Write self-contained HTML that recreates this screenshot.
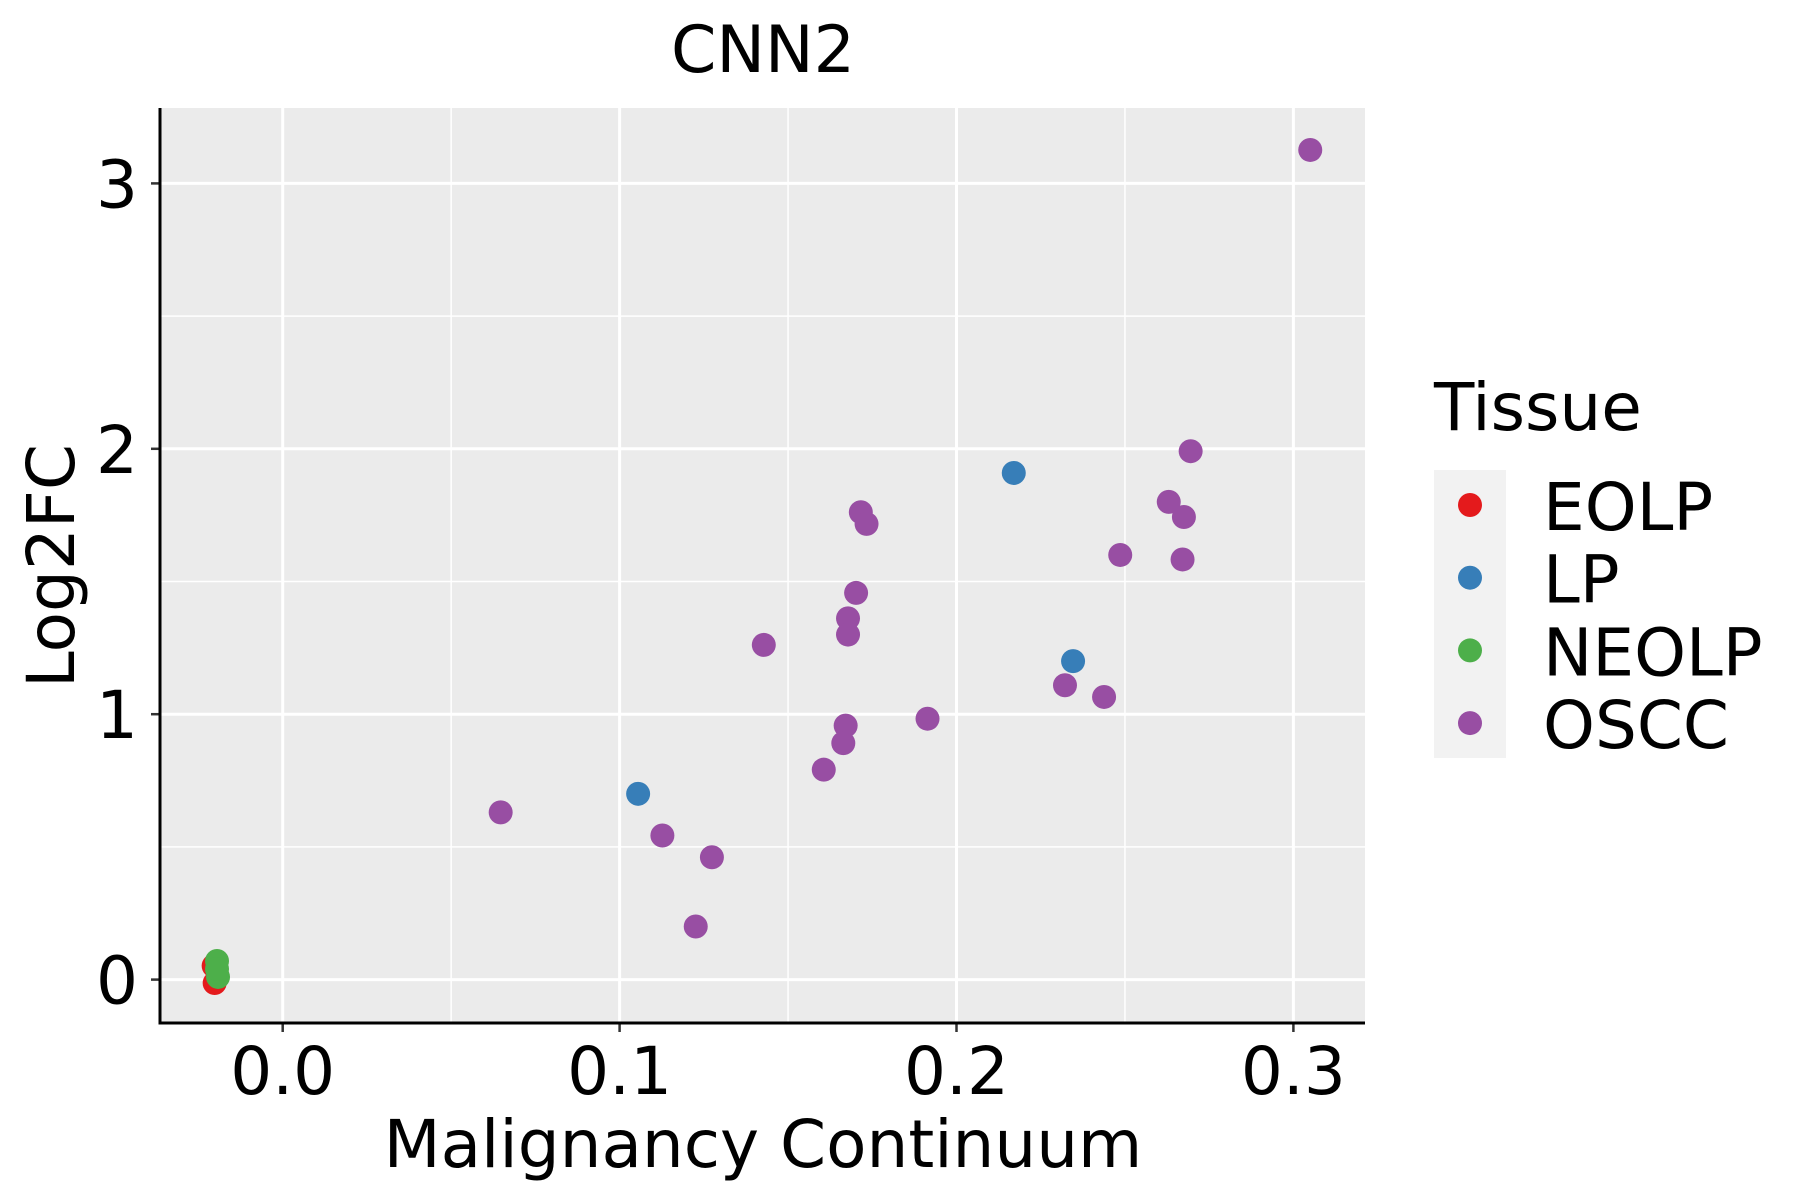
<!DOCTYPE html>
<html><head><meta charset="utf-8"><style>body{margin:0;background:#fff}svg{display:block}text{font-family:"DejaVu Sans","Liberation Sans",sans-serif}</style></head>
<body>
<svg id="chart" width="1800" height="1200" viewBox="0 0 1800 1200">
<rect x="160" y="108" width="1205" height="915" fill="#ebebeb"/>
<g id="grid"></g><g id="pts"></g><g id="axes"></g>
<text x="763" y="72" font-size="65" text-anchor="middle">CNN2</text>
<text x="763" y="1167" font-size="66" text-anchor="middle">Malignancy Continuum</text>
<text transform="translate(74,566) rotate(-90)" font-size="66" text-anchor="middle">Log2FC</text>
<g>
<text x="1434" y="430" font-size="66">Tissue</text>
<rect x="1434" y="470" width="72" height="288" fill="#f2f2f2"/>
<g id="leg"></g>
</g>
</svg>
<script>
const categories=["EOLP","LP","NEOLP","OSCC"];
const colors=["#e41a1c","#377eb8","#4daf4a","#984ea3"];
const xTicks=[0.0,0.1,0.2,0.3];
const xTickLabels=["0.0","0.1","0.2","0.3"];
const yTicks=[0,1,2,3];
const yTickLabels=["0","1","2","3"];
const eolpX=[-0.0202,-0.0205];
const eolpY=[-0.013,0.052];
const lpX=[0.217,0.2346,0.1055];
const lpY=[1.909,1.2,0.7];
const neolpX=[-0.0195,-0.0192,-0.0195];
const neolpY=[0.07,0.01,0.04];
const osccX=[0.305,0.2695,0.263,0.2675,0.2486,0.2671,0.1716,0.1733,0.1702,0.1678,0.1678,0.1428,0.2322,0.2438,0.1914,0.1671,0.1664,0.1606,0.0647,0.1127,0.1274,0.1226];
const osccY=[3.126,1.991,1.8,1.743,1.6,1.583,1.761,1.717,1.457,1.361,1.3,1.261,1.109,1.065,0.983,0.957,0.891,0.791,0.630,0.543,0.461,0.2];
const NS="http://www.w3.org/2000/svg";
const X=v=>282.7+v*3369, Y=v=>979.6-v*265.4;
const L=160,R=1365,T=108,B=1023;
function mk(tag,a,p){const e=document.createElementNS(NS,tag);for(const k in a)e.setAttribute(k,a[k]);p.appendChild(e);return e;}
const g=document.getElementById('grid');
for(let i=0;i<xTicks.length;i++){const m=xTicks[i]+0.05;if(X(m)<R){const l=mk('line',{x1:X(m),x2:X(m),y1:T,y2:B,stroke:'#fff','stroke-width':1.5},g);}}
for(let i=0;i<yTicks.length;i++){const m=yTicks[i]+0.5;if(Y(m)>T){const l=mk('line',{x1:L,x2:R,y1:Y(m),y2:Y(m),stroke:'#fff','stroke-width':1.5},g);}}
const ax=document.getElementById('axes');
xTicks.forEach((v,i)=>{
const l=mk('line',{x1:X(v),x2:X(v),y1:T,y2:B,stroke:'#fff','stroke-width':3},g);

const t=mk('line',{x1:X(v),x2:X(v),y1:B,y2:B+9,stroke:'#333','stroke-width':2.5},ax);

const tx=mk('text',{x:X(v),y:1094,'font-size':66,'text-anchor':'middle'},ax);tx.textContent=xTickLabels[i];
});
yTicks.forEach((v,i)=>{
const l=mk('line',{x1:L,x2:R,y1:Y(v),y2:Y(v),stroke:'#fff','stroke-width':3},g);

const t=mk('line',{x1:L-9,x2:L,y1:Y(v),y2:Y(v),stroke:'#333','stroke-width':2.5},ax);

const tx=mk('text',{x:L-22,y:Y(v)+24,'font-size':66,'text-anchor':'end'},ax);tx.textContent=yTickLabels[i];
});
const xa=mk('line',{x1:L,x2:R,y1:B,y2:B,stroke:'#000','stroke-width':3},ax);

const ya=mk('line',{x1:L,x2:L,y1:T,y2:B+1.5,stroke:'#000','stroke-width':3},ax);

const series=[[eolpX,eolpY],[lpX,lpY],[neolpX,neolpY],[osccX,osccY]];
const order=[3,1,0,2];
const pg=document.getElementById('pts');
order.forEach(s=>{const [xs,ys]=series[s];xs.forEach((x,i)=>{
const c=mk('circle',{cx:X(x),cy:Y(ys[i]),r:12,fill:colors[s]},pg);

});});
const lg=document.getElementById('leg');
categories.forEach((c,i)=>{const y=505+i*72.7;
const ci=mk('circle',{cx:1470,cy:y,r:12,fill:colors[i]},lg);


const t=mk('text',{x:1543,y:y+25,'font-size':66},lg);t.textContent=c;

});
</script>
</body></html>
